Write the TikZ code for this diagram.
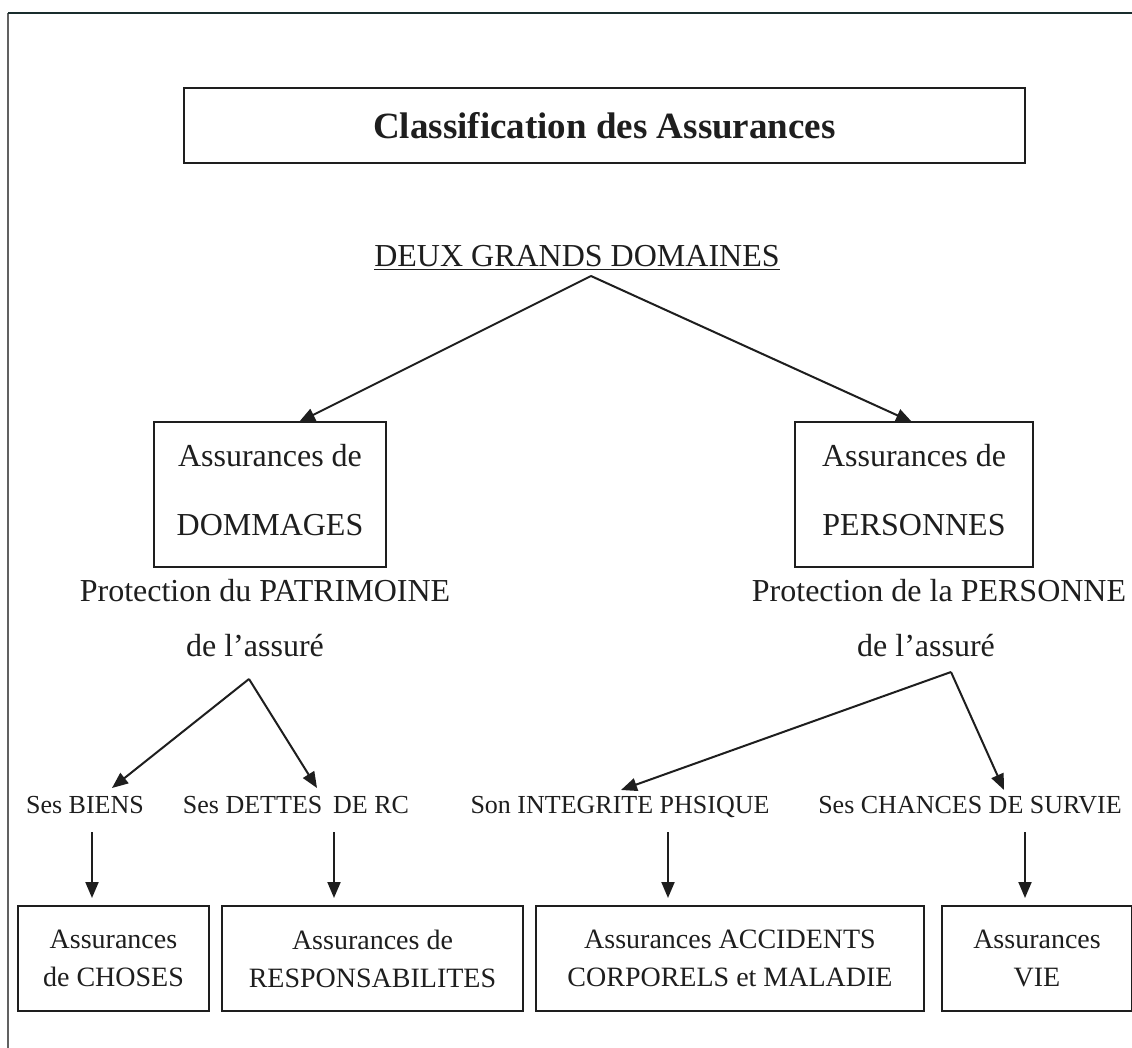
\documentclass[tikz,border=0pt]{standalone}
\usepackage{fontspec}
\setmainfont{Liberation Serif}
\usetikzlibrary{arrows.meta}
\definecolor{ink}{HTML}{1E1E1E}
\newcommand{\uptext}[2]{\raisebox{#1}[\height][\depth]{\begin{tabular}{@{}c@{}}#2\end{tabular}}}
\begin{document}
\begin{tikzpicture}[x=1pt,y=-1pt,
  every node/.style={text=ink},
  box/.style={draw=ink,line width=2.2pt,inner sep=0pt,align=center},
  txt/.style={inner sep=0pt,anchor=base},
  arr/.style={draw=ink,line width=2pt,-{Triangle[length=16pt,width=13pt]}},
  big/.style={font=\fontsize{32}{69}\selectfont},
  mid/.style={font=\fontsize{26}{30}\selectfont},
  low/.style={font=\fontsize{28}{38}\selectfont}]
\useasboundingbox (0,0) rectangle (1132,1048);
\fill[white] (0,0) rectangle (1132,1048);
% outer frame
\coordinate (fbl) at (8,1048);
\coordinate (ftl) at (8,13);
\coordinate (ftr) at (1132,13);
\draw[draw=ink!70,line width=1.2pt] (fbl) -- (ftl);
\draw[draw=ink!85!teal,line width=2pt] (ftl) -- (ftr);
% title
\node[box,minimum width=841,minimum height=75,font=\fontsize{37}{44}\selectfont\bfseries] (title) at (604.5,125.5) {Classification des Assurances};
% deux grands domaines
\node[txt,big] (deux) at (577,267) {\underline{DEUX GRANDS DOMAINES}};
\coordinate (ap0) at (591,276);
% main boxes
\node[box,big,minimum width=232,minimum height=145] (dom) at (270,494.5) {\uptext{7pt}{Assurances de\\DOMMAGES}};
\node[box,big,minimum width=238,minimum height=145] (pers) at (914,494.5) {\uptext{7pt}{Assurances de\\PERSONNES}};
\coordinate (t1) at (299,422);
\coordinate (t2) at (912,422);
\draw[arr] (ap0) -- (t1);
\draw[arr] (ap0) -- (t2);
% protections
\node[txt,big] (pa1) at (265,601) {Protection du PATRIMOINE};
\node[txt,big] (pa2) at (255,656) {de l’assuré};
\node[txt,big] (pb1) at (939,601) {Protection de la PERSONNE};
\node[txt,big] (pb2) at (926,656) {de l’assuré};
\coordinate (ap1) at (249,679);
\coordinate (ap2) at (951,672);
% middle row
\node[txt,mid] (biens) at (85,813) {Ses BIENS};
\node[txt,mid] (dettes) at (296,813) {Ses DETTES\, DE RC};
\node[txt,mid] (integ) at (620,813) {Son INTEGRITE PHSIQUE};
\node[txt,mid] (chances) at (970,813) {Ses CHANCES DE SURVIE};
\coordinate (s1) at (112,788);
\coordinate (s2) at (317,788);
\coordinate (s3) at (621,790);
\coordinate (s4) at (1004,790);
\draw[arr] (ap1) -- (s1);
\draw[arr] (ap1) -- (s2);
\draw[arr] (ap2) -- (s3);
\draw[arr] (ap2) -- (s4);
% bottom boxes
\node[box,low,minimum width=191,minimum height=105] (choses) at (113.5,958.5) {Assurances\\de CHOSES};
\node[box,low,minimum width=301,minimum height=105] (resp) at (372.5,958.5) {Assurances de\\RESPONSABILITES};
\node[box,low,minimum width=388,minimum height=105] (acc) at (730,958.5) {Assurances ACCIDENTS\\CORPORELS et MALADIE};
\node[box,low,minimum width=190,minimum height=105] (vie) at (1037,958.5) {Assurances\\VIE};
% vertical arrows
\coordinate (v1a) at (92,832);  \coordinate (v1b) at (92,898);
\coordinate (v2a) at (334,832); \coordinate (v2b) at (334,898);
\coordinate (v3a) at (668,832); \coordinate (v3b) at (668,898);
\coordinate (v4a) at (1025,832);\coordinate (v4b) at (1025,898);
\draw[arr] (v1a) -- (v1b);
\draw[arr] (v2a) -- (v2b);
\draw[arr] (v3a) -- (v3b);
\draw[arr] (v4a) -- (v4b);
\end{tikzpicture}
\end{document}
